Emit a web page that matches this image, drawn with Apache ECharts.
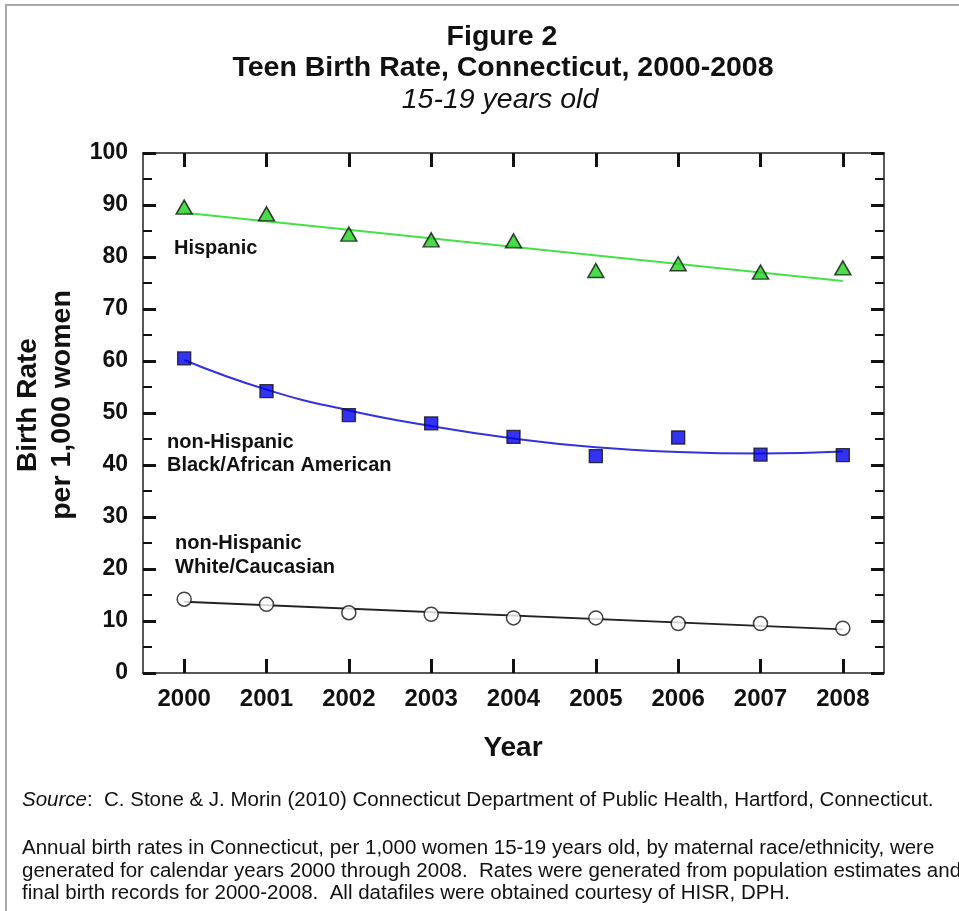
<!DOCTYPE html>
<html>
<head>
<meta charset="utf-8">
<script src="https://cdn.jsdelivr.net/npm/echarts@6/dist/echarts.min.js"></script>
<style>
  html, body { margin: 0; padding: 0; background: #fff; }
  #chart { width: 959px; height: 911px; }
</style>
</head>
<body>
<div id="chart"></div>
<script>
// Teen birth rates (per 1,000 women aged 15-19), Connecticut 2000-2008
const years = ['2000', '2001', '2002', '2003', '2004', '2005', '2006', '2007', '2008'];
const hispanic = [89.6, 88.3, 84.4, 83.3, 83.1, 77.4, 78.7, 77.1, 77.9];
const blackNH = [60.5, 54.2, 49.6, 48.0, 45.4, 41.7, 45.3, 42.0, 41.9];
const whiteNH = [14.2, 13.2, 11.6, 11.3, 10.6, 10.6, 9.5, 9.5, 8.6];

// Fitted trend lines
const hispanicFitYears = ['2000', '2008'];
const hispanicFit = [88.5, 75.4];
const blackFit = [60.2, 54.5, 50.5, 47.5, 45.1, 43.4, 42.5, 42.2, 42.6];
const whiteFitYears = ['2000', '2008'];
const whiteFit = [13.7, 8.4];

const yTicks = [0, 100, 10];   // min, max, interval

const FONT = '"Liberation Sans", Arial, Helvetica, sans-serif';
const NOTE_SIZE = 20.5;

const chart = echarts.init(document.getElementById('chart'), null, { renderer: 'canvas' });

const pairs = (xs, ys) => xs.map((x, i) => [x, ys[i]]);

const tickStyle = { show: true, inside: true, alignWithLabel: true, length: 14, lineStyle: { color: '#111', width: 3 } };
const yTickStyle = { show: true, inside: true, length: 13, lineStyle: { color: '#111', width: 3 } };
const yMinor = { show: true, splitNumber: 2, length: 9, lineStyle: { color: '#111', width: 2 } };
const axisLine = { show: true, onZero: false, lineStyle: { color: '#222', width: 1.5 } };

const noteText = (y, text) => ({
  type: 'text', x: 22, y,
  style: { text, font: NOTE_SIZE + 'px ' + FONT, fill: '#111', textVerticalAlign: 'middle' }
});

const option = {
  backgroundColor: '#ffffff',
  animation: false,
  grid: { left: 143, right: 75, top: 153, bottom: 238, containLabel: false },
  xAxis: [
    {
      type: 'category', data: years, boundaryGap: true, position: 'bottom',
      axisLine, axisTick: tickStyle,
      axisLabel: { color: '#111', fontFamily: FONT, fontWeight: 'bold', fontSize: 24, margin: 14 },
      splitLine: { show: false }
    },
    {
      type: 'category', data: years, boundaryGap: true, position: 'top',
      axisLine, axisTick: tickStyle, axisLabel: { show: false }, splitLine: { show: false }
    }
  ],
  yAxis: [
    {
      type: 'value', min: yTicks[0], max: yTicks[1], interval: yTicks[2], position: 'left',
      axisLine, axisTick: yTickStyle, minorTick: yMinor,
      axisLabel: { color: '#111', fontFamily: FONT, fontWeight: 'bold', fontSize: 23, margin: 15 },
      splitLine: { show: false }
    },
    {
      type: 'value', min: yTicks[0], max: yTicks[1], interval: yTicks[2], position: 'right',
      axisLine, axisTick: yTickStyle, minorTick: yMinor,
      axisLabel: { show: false }, splitLine: { show: false }
    }
  ],
  series: [
    {
      name: 'Hispanic fit', type: 'line', data: pairs(hispanicFitYears, hispanicFit),
      showSymbol: false, lineStyle: { color: '#44e044', width: 2 }, z: 2
    },
    {
      name: 'Black fit', type: 'line', data: blackFit, smooth: 0.5,
      showSymbol: false, lineStyle: { color: '#3333dd', width: 2 }, z: 2
    },
    {
      name: 'White fit', type: 'line', data: pairs(whiteFitYears, whiteFit),
      showSymbol: false, lineStyle: { color: '#222', width: 1.8 }, z: 2
    },
    {
      name: 'Hispanic', type: 'scatter', data: hispanic, symbol: 'triangle', symbolSize: [16, 14],
      itemStyle: { color: '#1ed21e', borderColor: '#111', borderWidth: 1.5 }, z: 3
    },
    {
      name: 'non-Hispanic Black/African American', type: 'scatter', data: blackNH, symbol: 'rect', symbolSize: 13,
      itemStyle: { color: '#0000ee', borderColor: '#111', borderWidth: 1.4 }, z: 3
    },
    {
      name: 'non-Hispanic White/Caucasian', type: 'scatter', data: whiteNH, symbol: 'circle', symbolSize: 14,
      itemStyle: { color: '#ffffff', borderColor: '#111', borderWidth: 1.5 }, z: 3
    }
  ],
  graphic: [
    // page frame
    { type: 'rect', shape: { x: 6, y: 5, width: 1000, height: 1000 }, style: { fill: 'none', stroke: '#a8a8a8', lineWidth: 2 }, silent: true },
    // titles
    { type: 'text', x: 502, y: 37, style: { text: 'Figure 2', font: 'bold 28.5px ' + FONT, fill: '#111', textAlign: 'center', textVerticalAlign: 'middle' } },
    { type: 'text', x: 503, y: 68, style: { text: 'Teen Birth Rate, Connecticut, 2000-2008', font: 'bold 28.5px ' + FONT, fill: '#111', textAlign: 'center', textVerticalAlign: 'middle' } },
    { type: 'text', x: 500, y: 100, style: { text: '15-19 years old', font: 'italic 28.5px ' + FONT, fill: '#111', textAlign: 'center', textVerticalAlign: 'middle' } },
    // axis titles
    { type: 'text', x: 28, y: 405, rotation: Math.PI / 2, style: { text: 'Birth Rate', font: 'bold 28px ' + FONT, fill: '#111', textAlign: 'center', textVerticalAlign: 'middle' } },
    { type: 'text', x: 62, y: 405, rotation: Math.PI / 2, style: { text: 'per 1,000 women', font: 'bold 28.5px ' + FONT, fill: '#111', textAlign: 'center', textVerticalAlign: 'middle' } },
    { type: 'text', x: 513, y: 748, style: { text: 'Year', font: 'bold 28px ' + FONT, fill: '#111', textAlign: 'center', textVerticalAlign: 'middle' } },
    // series labels
    { type: 'text', x: 174, y: 248, style: { text: 'Hispanic', font: 'bold 20px ' + FONT, fill: '#111', textVerticalAlign: 'middle' } },
    { type: 'text', x: 167, y: 442, style: { text: 'non-Hispanic', font: 'bold 20px ' + FONT, fill: '#111', textVerticalAlign: 'middle' } },
    { type: 'text', x: 167, y: 465, style: { text: 'Black/African American', font: 'bold 20px ' + FONT, fill: '#111', textVerticalAlign: 'middle' } },
    { type: 'text', x: 175, y: 543, style: { text: 'non-Hispanic', font: 'bold 20px ' + FONT, fill: '#111', textVerticalAlign: 'middle' } },
    { type: 'text', x: 175, y: 567, style: { text: 'White/Caucasian', font: 'bold 20px ' + FONT, fill: '#111', textVerticalAlign: 'middle' } },
    // source and notes
    { type: 'text', x: 22, y: 800, style: {
        text: '{i|Source}:  C. Stone & J. Morin (2010) Connecticut Department of Public Health, Hartford, Connecticut.',
        font: NOTE_SIZE + 'px ' + FONT, fill: '#111', textVerticalAlign: 'middle',
        rich: { i: { fontStyle: 'italic', fontSize: NOTE_SIZE, fontFamily: FONT, fill: '#111' } } } },
    noteText(848, 'Annual birth rates in Connecticut, per 1,000 women 15-19 years old, by maternal race/ethnicity, were'),
    noteText(871, 'generated for calendar years 2000 through 2008.  Rates were generated from population estimates and'),
    noteText(893, 'final birth records for 2000-2008.  All datafiles were obtained courtesy of HISR, DPH.')
  ]
};

chart.setOption(option);
</script>
</body>
</html>
